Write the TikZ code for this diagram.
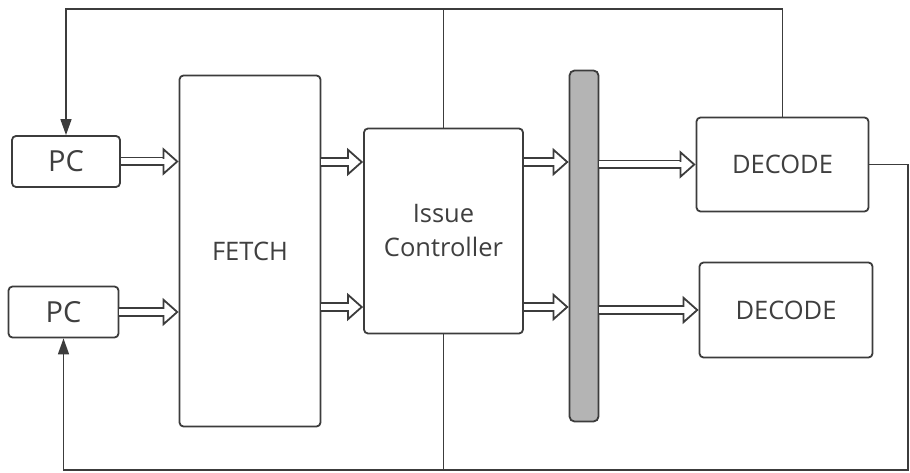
\documentclass[tikz,border=0pt]{standalone}
\usepackage{fontspec}
\setmainfont{Open Sans}
\usetikzlibrary{arrows.meta, positioning}
\definecolor{lc}{HTML}{3C3C3C}
\definecolor{txt}{HTML}{3F3F3F}
\definecolor{barc}{HTML}{B4B4B4}

\begin{document}
\begin{tikzpicture}[x=1pt, y=-1pt,
    blk/.style={draw=lc, line width=1.8pt, rounded corners=4pt, fill=white, align=center, text=txt, font=\fontsize{25.5}{34}\selectfont, inner sep=0pt},
    pcblk/.style={blk, font=\fontsize{29}{34}\selectfont},
    bus/.style={draw=lc, line width=1.8pt, rounded corners=5pt, fill=barc, inner sep=0pt, minimum width=29pt, minimum height=351pt},
    fat/.style={draw=lc, line width=1.8pt, double=white, double distance=6pt, line cap=butt,
        -{Triangle[open, fill=white, length=16pt, width=28pt]},
        postaction={draw=white, line width=5.5pt, double=none, shorten <=1pt, shorten >=14pt, -}},
    fb/.style={draw=lc, line width=1.5pt},
    fbarrow/.style={fb, -{Triangle[length=16pt, width=11pt]}}
]
    \useasboundingbox (0,0) rectangle (910,473);

    % Nodes
    \node[pcblk, minimum width=108pt, minimum height=51pt] (pc1) at (66,161.5) {PC};
    \node[pcblk, minimum width=110pt, minimum height=51pt] (pc2) at (63.5,312) {PC};
    \node[blk, minimum width=141pt, minimum height=351pt] (fetch) at (250,251) {FETCH};
    \node[blk, minimum width=159pt, minimum height=205pt] (ic) at (443.5,231) {Issue\\Controller};
    \node[bus] (bar) at (584,246) {};
    \node[blk, minimum width=172pt, minimum height=94pt] (dec1) at (782.5,164.5) {DECODE};
    \node[blk, minimum width=173pt, minimum height=95pt] (dec2) at (786,310) {DECODE};

    % Rows and corners
    \coordinate (r1) at (0,162);
    \coordinate (r2) at (0,307);
    \coordinate (top) at (0,9);
    \coordinate (br) at (908,470);

    % Wide data paths
    \draw[fat] (pc1.east) -- (pc1.east -| fetch.west);
    \draw[fat] (pc2.east) -- (pc2.east -| fetch.west);
    \draw[fat] (fetch.east |- r1) -- (ic.west |- r1);
    \draw[fat] (fetch.east |- r2) -- (ic.west |- r2);
    \draw[fat] (ic.east |- r1) -- (bar.west |- r1);
    \draw[fat] (ic.east |- r2) -- (bar.west |- r2);
    \draw[fat] (bar.east |- dec1) -- (dec1.west);
    \draw[fat] (bar.east |- dec2) -- (dec2.west);

    % Feedback
    \draw[fbarrow] (dec1.north) -- (dec1.north |- top) -| (pc1.north);
    \draw[fb] (ic.north) -- (ic.north |- top);
    \draw[fbarrow] (dec1.east) -| (br) -| (pc2.south);
    \draw[fb] (ic.south) -- (ic.south |- br);

\end{tikzpicture}
\end{document}
